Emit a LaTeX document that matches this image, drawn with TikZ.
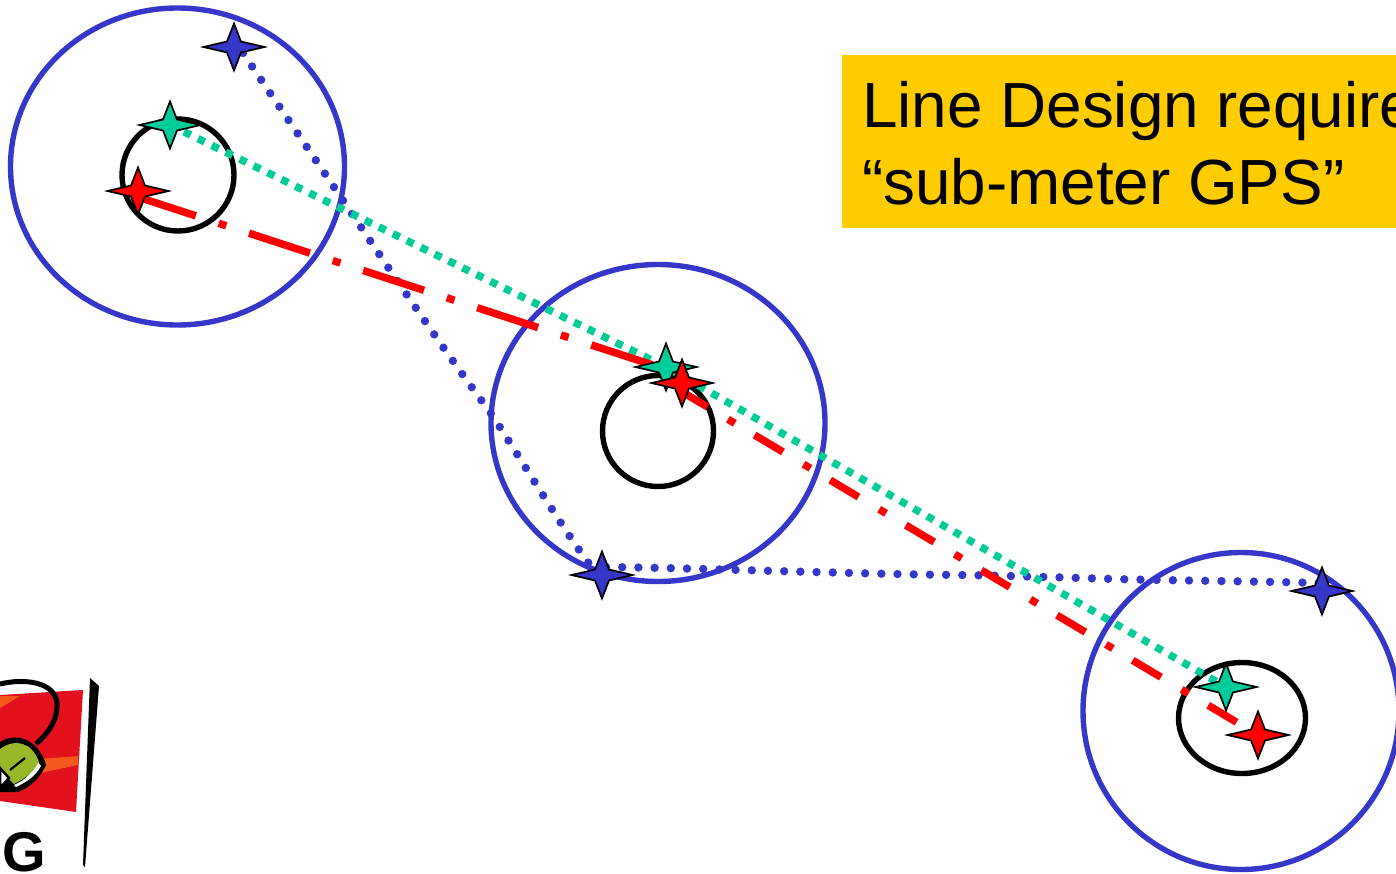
\documentclass[tikz,border=0pt]{standalone}
\usepackage{fontspec}
\setmainfont{Liberation Sans}
\definecolor{cblue}{HTML}{3636C8}
\definecolor{cgreen}{HTML}{00CC99}
\definecolor{cred}{HTML}{FF0000}
\definecolor{cyel}{HTML}{FFCC00}
\definecolor{flagred}{HTML}{E3101E}
\definecolor{flagor}{HTML}{F2591B}
\definecolor{leaf}{HTML}{98B82A}
\tikzset{
  x=1pt,y=-1pt,
  ring/.style={draw=cblue,line width=5.4pt},
  inner ring/.style={draw=black,line width=5.4pt},
  blue dots/.style={draw=cblue,line width=8.4pt,line cap=round,dash pattern=on 0pt off 16.2pt},
  green dots/.style={draw=cgreen,line width=7.5pt,dash pattern=on 7.5pt off 8pt},
  red long/.style={draw=cred,line width=7.5pt,dash pattern=on 64pt off 24pt on 8pt off 24pt},
  red short/.style={draw=cred,line width=7.5pt,dash pattern=on 33pt off 24pt on 8pt off 23pt},
  pics/fourstar/.style={code={
    \draw[fill=#1,draw=black,line width=1.7pt,miter limit=20]
      (-30.5,0) -- (-7,-5.5) -- (0,-23.5) -- (7,-5.5) -- (30.5,0) -- (7,5.5) -- (0,23.5) -- (-7,5.5) -- cycle;}},
}
\begin{document}
\begin{tikzpicture}
\useasboundingbox (0,0) rectangle (1396,873);
\begin{scope}
\clip (0,0) rectangle (1396,873);
% logo
\fill[flagred] (0,695) -- (83,690) -- (76,812) -- (0,801) -- cycle;
\fill[flagor] (40,759) -- (78,756) -- (78,765) -- (40,773) -- cycle;
\fill[flagor] (0,696) -- (20,696) -- (0,708) -- cycle;
\draw[black,line width=5pt] (0,684) .. controls (25,678) and (55,682) .. (57,703) .. controls (58,722) and (46,735) .. (36,744);
\fill[black] (0,742) .. controls (15,732) and (38,738) .. (46,765) .. controls (38,782) and (25,790) .. (17,792) -- (0,792) -- cycle;
\fill[white] (16,787) .. controls (26,782) and (34,778) .. (41,766) -- (38,762) .. controls (32,772) and (26,780) .. (14,785) -- cycle;
\fill[leaf] (0,749) .. controls (15,738) and (32,742) .. (39,762) .. controls (33,772) and (26,778) .. (14,784) -- (0,770) -- cycle;
\fill[white,draw=black,line width=2.5pt] (0,768) -- (9,778) -- (0,788) -- cycle;
\draw[black,line width=2.2pt] (10,770) -- (25,758);
\fill[black] (90,678) -- (99,686) -- (85,867) -- (83,865) -- cycle;
\node[anchor=base west,inner sep=0pt,font=\bfseries\fontsize{56}{56}\selectfont] (logotext) at (2,871) {G};
% callout
\fill[cyel] (842,55) rectangle (1396,228);
\node[anchor=base west,inner sep=0pt,font=\fontsize{63.8}{63.8}\selectfont] (line one) at (862,127) {Line Design require};
\node[anchor=base west,inner sep=0pt,font=\fontsize{63.8}{63.8}\selectfont] (line two) at (862,204) {“sub-meter GPS”};
% named positions
\coordinate (b1) at (234,47);
\coordinate (g1) at (170,125);
\coordinate (r1) at (138,191);
\coordinate (g2) at (666,367);
\coordinate (r2) at (682,383);
\coordinate (b2) at (602,575);
\coordinate (g3) at (1226,687);
\coordinate (r3) at (1258,735);
\coordinate (b3) at (1322,591);
\coordinate (rs) at (135,196);
\coordinate (ra) at (665,369);
\coordinate (rb) at (679,390);
\coordinate (bs) at (243,53);
\coordinate (bm1) at (348,208);
\coordinate (bm2) at (490,412);
\coordinate (be) at (590,565);
\coordinate (bt) at (606,567);
\coordinate (bm3) at (960,575);
\coordinate (bm4) at (1160,580);
\coordinate (bf) at (1323,583);
% circles
\draw[ring] (177.5,166.5) ellipse [x radius=167,y radius=158.5];
\draw[ring] (658,423) ellipse [x radius=167,y radius=158.5];
\draw[ring] (1241,711) ellipse [x radius=158,y radius=158.5];
\draw[inner ring] (178,175) circle [radius=56];
\draw[inner ring] (658,431) circle [radius=55.5];
\draw[inner ring] (1242,718) ellipse [x radius=63.5,y radius=55.5];
% connectors
\draw[blue dots] (bs) .. controls (280,108) and (318,163) .. (bm1) .. controls (390,270) and (440,345) .. (bm2) .. controls (525,465) and (560,525) .. (be);
\draw[blue dots] (bt) .. controls (700,568) and (850,574) .. (bm3) .. controls (1030,576) and (1100,579) .. (bm4) .. controls (1220,581) and (1280,582) .. (bf);
\draw[green dots] (g1) -- (g2) -- (g3);
\draw[red long] (rs) -- (ra);
\draw[red short] (rb) -- (r3);
% stars
\pic at (b1) {fourstar=cblue};
\pic at (g1) {fourstar=cgreen};
\pic at (r1) {fourstar=cred};
\pic at (g2) {fourstar=cgreen};
\pic at (r2) {fourstar=cred};
\pic at (b2) {fourstar=cblue};
\pic at (g3) {fourstar=cgreen};
\pic at (r3) {fourstar=cred};
\pic at (b3) {fourstar=cblue};
\end{scope}
\end{tikzpicture}
\end{document}
